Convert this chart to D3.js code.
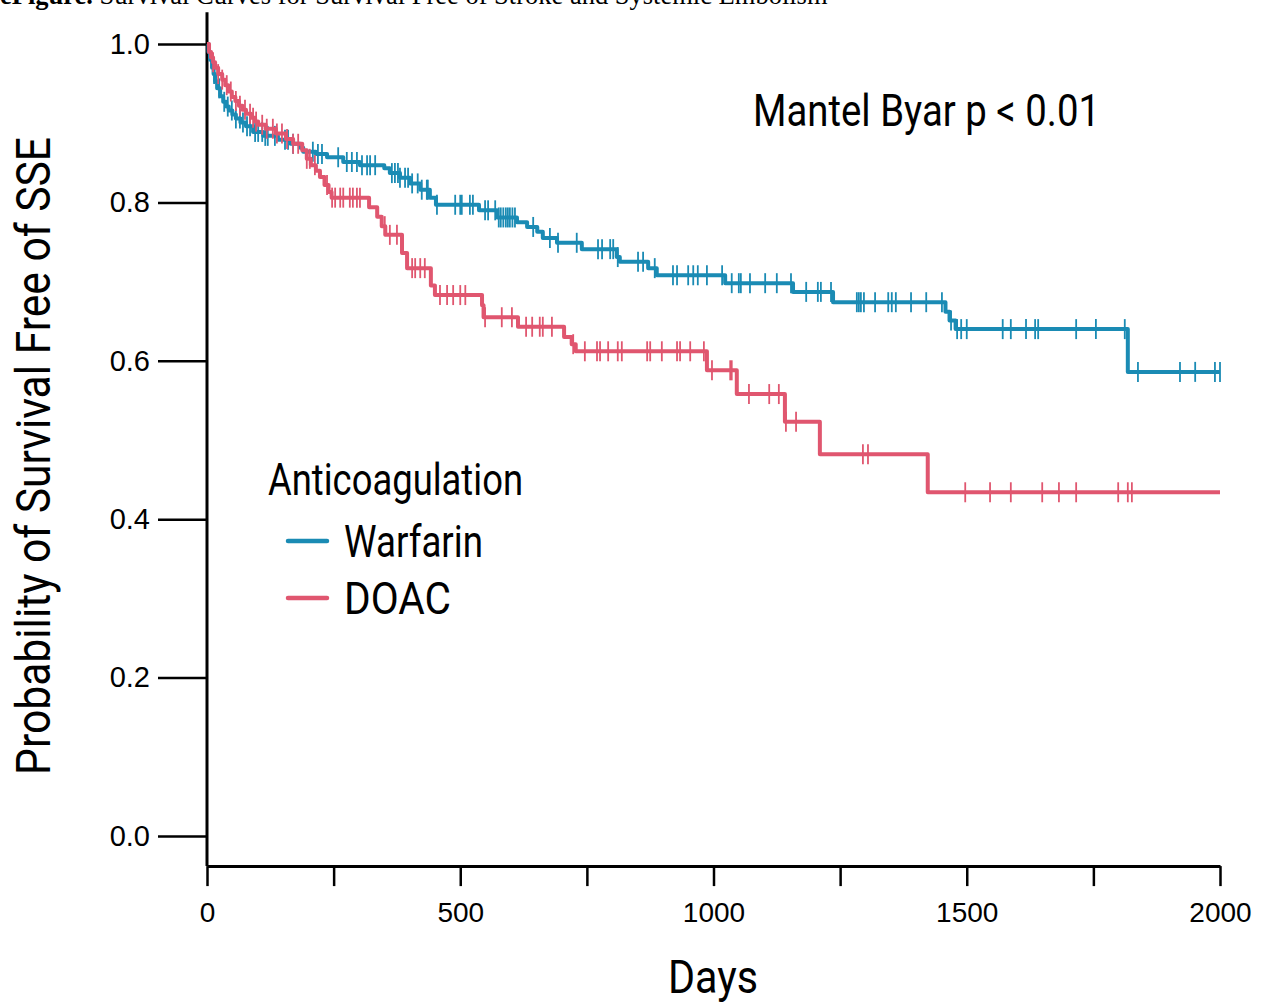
<!DOCTYPE html>
<html>
<head>
<meta charset="utf-8">
<script src="https://cdn.jsdelivr.net/npm/d3@7"></script>
<style>
  body { margin: 0; background: #fff; }
  svg { display: block; }
</style>
</head>
<body>
<svg id="chart"></svg>
<script>
// Kaplan-Meier steps: [day, survival after event]
var warfarinSteps = [
  [0, 1.0], [3, 0.99], [6, 0.98], [10, 0.97], [13, 0.962], [16, 0.953], [20, 0.944], [26, 0.934],
  [32, 0.927], [38, 0.921], [43, 0.916], [50, 0.911], [57, 0.906], [66, 0.901], [77, 0.896],
  [91, 0.889], [111, 0.884], [140, 0.879], [165, 0.874], [184, 0.869], [190, 0.864], [215, 0.861],
  [237, 0.857], [269, 0.851], [302, 0.847], [350, 0.843], [361, 0.837], [381, 0.831], [401, 0.824],
  [421, 0.816], [440, 0.806], [452, 0.797], [537, 0.79], [573, 0.781], [612, 0.775], [632, 0.769],
  [652, 0.763], [663, 0.755], [691, 0.749], [740, 0.741], [809, 0.731], [815, 0.725], [871, 0.717],
  [888, 0.708], [1023, 0.698], [1157, 0.687], [1236, 0.674], [1458, 0.662], [1466, 0.651],
  [1478, 0.64], [1818, 0.586]
];
var doacSteps = [
  [0, 1.0], [4, 0.99], [8, 0.983], [12, 0.977], [16, 0.97], [22, 0.962], [30, 0.955], [36, 0.948],
  [42, 0.94], [49, 0.933], [56, 0.928], [63, 0.922], [70, 0.917], [77, 0.912], [87, 0.907],
  [95, 0.902], [101, 0.898], [116, 0.893], [136, 0.887], [156, 0.88], [170, 0.874], [188, 0.866],
  [197, 0.855], [205, 0.847], [215, 0.84], [223, 0.832], [232, 0.822], [240, 0.813], [246, 0.806],
  [320, 0.794], [336, 0.782], [345, 0.77], [352, 0.759], [385, 0.736], [395, 0.717], [442, 0.695],
  [450, 0.683], [543, 0.67], [546, 0.655], [614, 0.643], [705, 0.63], [720, 0.621], [728, 0.612],
  [987, 0.588], [1046, 0.558], [1141, 0.523], [1210, 0.482], [1423, 0.434]
];
// censored times (days)
var warfarinCensor = [
  14, 24, 34, 41, 49, 57, 65, 71, 79, 85, 95, 101, 109, 115, 120, 134, 154, 160, 170, 209, 219, 227,
  259, 276, 286, 296, 306, 316, 322, 332, 365, 371, 377, 381, 391, 397, 405, 416, 424, 434, 436, 454,
  490, 500, 503, 519, 525, 549, 555, 569, 576, 580, 585, 590, 594, 598, 603, 608, 644, 677, 693, 730,
  772, 780, 796, 802, 811, 851, 861, 884, 920, 928, 950, 960, 969, 987, 1017, 1036, 1050, 1054, 1072,
  1102, 1125, 1153, 1183, 1206, 1212, 1232, 1283, 1287, 1291, 1297, 1319, 1345, 1352, 1360, 1390,
  1420, 1451, 1469, 1481, 1489, 1500, 1571, 1587, 1617, 1635, 1641, 1716, 1755, 1812, 1838, 1921,
  1951, 1990, 2000
];
var doacCensor = [
  12, 22, 30, 39, 47, 57, 65, 75, 85, 91, 97, 109, 118, 130, 138, 148, 158, 170, 180, 197, 203, 213,
  237, 247, 253, 263, 269, 282, 288, 296, 302, 351, 361, 375, 405, 411, 421, 430, 460, 474, 486, 500,
  510, 549, 582, 602, 630, 642, 657, 663, 681, 723, 746, 770, 776, 792, 811, 819, 869, 875, 898, 928,
  934, 954, 981, 997, 1033, 1036, 1070, 1110, 1129, 1143, 1163, 1295, 1305, 1497, 1546, 1587, 1649,
  1682, 1716, 1799, 1818, 1826
];
var groups = ["Warfarin", "DOAC"];
var colors = ["#1a8bb4", "#e0566f"];
var xTicks = [0, 250, 500, 750, 1000, 1250, 1500, 1750, 2000];
var yTicks = [0, 0.2, 0.4, 0.6, 0.8, 1.0];

var W = 1262, H = 1005;
var svg = d3.select("#chart").attr("width", W).attr("height", H);
svg.append("rect").attr("width", W).attr("height", H).attr("fill", "#fff");

var x = d3.scaleLinear().domain([0, 2000]).range([207, 1220]);
var y = d3.scaleLinear().domain([0, 1]).range([836, 44]);
var axisY = y(-0.038);

// caption, cut off at the top edge like in the source page
var cap = svg.append("text").attr("x", 0).attr("y", 4)
  .style("font-family", "'Liberation Serif', serif").style("font-size", "26.5px");
cap.append("tspan").style("font-weight", "bold").text("eFigure.");
cap.append("tspan").text(" Survival Curves for Survival Free of Stroke and Systemic Embolism");

// y axis
var gy = svg.append("g").attr("transform", "translate(" + x(0) + ",0)")
  .call(d3.axisLeft(y).tickValues(yTicks).tickSize(49).tickPadding(8).tickFormat(d3.format(".1f")));
gy.select(".domain").remove();
gy.selectAll(".tick line").attr("stroke", "#000").attr("stroke-width", 2.5);
gy.selectAll(".tick text").style("font-family", "'Liberation Sans', Arial, sans-serif")
  .style("font-size", "29px").attr("fill", "#000");
svg.append("line").attr("x1", x(0)).attr("x2", x(0)).attr("y1", y(1.04)).attr("y2", axisY)
  .attr("stroke", "#000").attr("stroke-width", 3);

// x axis
var gx = svg.append("g").attr("transform", "translate(0," + axisY + ")")
  .call(d3.axisBottom(x).tickValues(xTicks).tickSize(20).tickSizeOuter(0).tickPadding(16)
    .tickFormat(function (d) { return d % 500 === 0 ? d : ""; }));
gx.select(".domain").attr("stroke", "#000").attr("stroke-width", 3);
gx.selectAll(".tick line").attr("stroke", "#000").attr("stroke-width", 2.5);
gx.selectAll(".tick text").style("font-family", "'Liberation Sans', Arial, sans-serif")
  .style("font-size", "28px").attr("fill", "#000");

// condensed titles: squeeze Roboto to the source widths
var narrow = "Roboto, 'Liberation Sans', sans-serif";
function label(sel, txt, size, len) {
  return sel.style("font-family", narrow).style("font-size", size + "px")
    .attr("textLength", len).attr("lengthAdjust", "spacingAndGlyphs").text(txt);
}
label(svg.append("text").attr("x", 668).attr("y", 993), "Days", 47, 90);
label(svg.append("text").attr("transform", "translate(50,775) rotate(-90)"),
  "Probability of Survival Free of SSE", 48, 638);

// curves
function survAt(steps, t) {
  var i = d3.bisector(function (d) { return d[0]; }).right(steps, t) - 1;
  return steps[Math.max(i, 0)][1];
}
var line = d3.line().curve(d3.curveStepAfter)
  .x(function (d) { return x(d[0]); }).y(function (d) { return y(d[1]); });

[warfarinSteps, doacSteps].forEach(function (steps, k) {
  var pts = steps.concat([[2000, steps[steps.length - 1][1]]]);
  var cens = k === 0 ? warfarinCensor : doacCensor;
  svg.append("g").selectAll("line").data(cens).enter().append("line")
    .attr("x1", function (d) { return x(d); }).attr("x2", function (d) { return x(d); })
    .attr("y1", function (d) { return y(survAt(steps, d)) - 10; })
    .attr("y2", function (d) { return y(survAt(steps, d)) + 10; })
    .attr("stroke", colors[k]).attr("stroke-width", 1.8);
  svg.append("path").datum(pts).attr("d", line).attr("fill", "none")
    .attr("stroke", colors[k]).attr("stroke-width", 4).attr("stroke-linejoin", "round");
});

// annotation
label(svg.append("text").attr("x", 753).attr("y", 126), "Mantel Byar p < 0.01", 45, 347);

// legend
label(svg.append("text").attr("x", 268).attr("y", 495), "Anticoagulation", 45, 255);
var lg = svg.append("g").selectAll("g").data(groups).enter().append("g")
  .attr("transform", function (d, i) { return "translate(0," + (541 + i * 57) + ")"; });
lg.append("line").attr("x1", 288).attr("x2", 327).attr("stroke", function (d, i) { return colors[i]; })
  .attr("stroke-width", 4.5).attr("stroke-linecap", "round");
lg.append("text").attr("x", 344).attr("y", 16)
  .style("font-family", narrow).style("font-size", "45px")
  .attr("textLength", function (d) { return d === "DOAC" ? 107 : 139; })
  .attr("lengthAdjust", "spacingAndGlyphs").text(function (d) { return d; });
</script>
</body>
</html>
